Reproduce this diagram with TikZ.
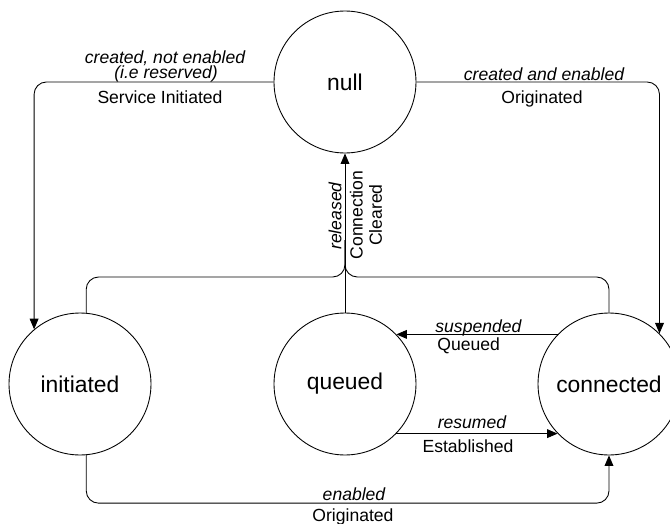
\documentclass[tikz,border=0pt]{standalone}
\usepackage{fontspec}
\setmainfont{Liberation Sans}
\usetikzlibrary{arrows.meta}

\tikzset{
	state/.style = {draw, circle, minimum size=2.84cm, inner sep=0pt,
		font=\fontsize{13}{15}\selectfont},
	trans/.style = {-{Triangle[length=6pt, width=5pt]}, rounded corners=7pt},
	event/.style = {font=\fontsize{10}{11}\selectfont\itshape, inner sep=0pt},
	action/.style = {font=\fontsize{10}{11}\selectfont, inner sep=0pt},
}

\begin{document}
\begin{tikzpicture}[x=0.02cm, y=-0.02cm, line width=0.5pt]

	\useasboundingbox (0,0) rectangle (670,524);
	\clip (0,0) rectangle (670,524);

	% states
	\node[state] (null) at (345,82) {null};
	\node[state] (initiated) at (80,384) {initiated};
	\node[state] (queued) at (345,384) {queued};
	\node[state] (connected) at (609,384) {connected};

	\coordinate (rel) at (345,277);
	\coordinate (top) at (345,240);

	% transitions
	\draw[trans] (null.west) -| (initiated.130);
	\draw[trans] (null.east) -| (connected.45);
	\draw[trans] (queued.north) -- (null.south);
	\draw[rounded corners=7pt] (initiated.85) |- (rel) -- (top);
	\draw[rounded corners=7pt] (connected.north) |- (rel) -- (top);
	\draw[trans] (connected.136) -- (queued.44);
	\draw[trans] (queued.-44) -- (connected.-136);
	\draw[trans] (initiated.-85) -- ++(0,48) -| (connected.south);

	% labels
	\node[event, anchor=base] (resv1) at (165,63) {created, not enabled};
	\node[event, anchor=base] (resv2) at (166,78) {(i.e reserved)};
	\node[action, anchor=base] (servinit) at (160,103) {Service Initiated};
	\node[event, anchor=base] (crenab) at (544,80) {created and enabled};
	\node[action, anchor=base] (orig1) at (542,103) {Originated};
	\node[event, rotate=90] (released) at (335,216) {released};
	\node[action, rotate=90, align=center] (cleared) at (366,215)
	{Connection\\Cleared};
	\node[event, anchor=base west] (susp) at (435,332) {suspended};
	\node[action, anchor=base west] (qd) at (437,350) {Queued};
	\node[event, anchor=base] (resumed) at (472,428) {resumed};
	\node[action, anchor=base] (estab) at (468,452) {Established};
	\node[event, anchor=base] (enabled) at (354,500) {enabled};
	\node[action, anchor=base] (orig2) at (353,521) {Originated};

\end{tikzpicture}
\end{document}
